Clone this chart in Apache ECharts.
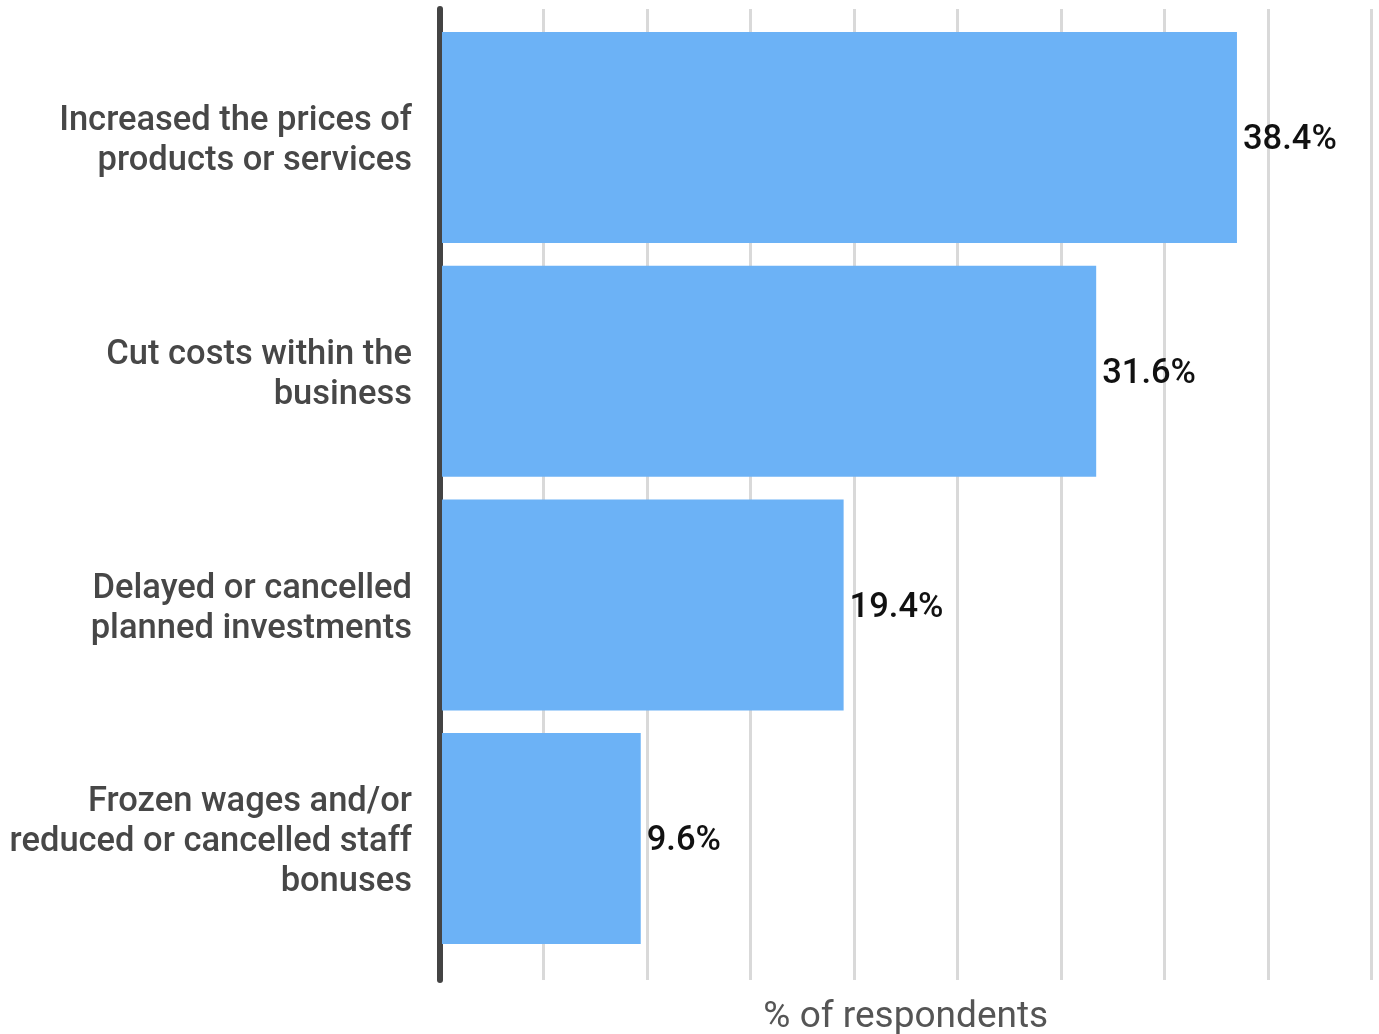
<!DOCTYPE html>
<html>
<head>
<meta charset="utf-8">
<title>Business responses</title>
<script src="https://cdn.jsdelivr.net/npm/echarts@6/dist/echarts.min.js"></script>
<style>
  html, body { margin: 0; padding: 0; background: #ffffff; }
  #chart { width: 1379px; height: 1034px; }
</style>
</head>
<body>
<div id="chart"></div>
<script>
// Actions taken by businesses, share of respondents (%)
const categories = [
  'Increased the prices of\nproducts or services',
  'Cut costs within the\nbusiness',
  'Delayed or cancelled\nplanned investments',
  'Frozen wages and/or\nreduced or cancelled staff\nbonuses'
];
const values = [38.4, 31.6, 19.4, 9.6];
const axisMin = 0;
const axisMax = 45;
const axisStep = 5;
const axisTitle = '% of respondents';

const FONT = 'Roboto, "Noto Sans", sans-serif';

const PLOT_LEFT = 440;
const PLOT_RIGHT = 7.5;
const W = 1379;

const chart = echarts.init(document.getElementById('chart'), null, { renderer: 'canvas' });

chart.setOption({
  animation: false,
  backgroundColor: '#ffffff',
  // x-axis title, centred under the plot area
  title: {
    text: axisTitle,
    left: (PLOT_LEFT + (W - PLOT_RIGHT)) / 2,
    top: 999,
    padding: 0,
    textAlign: 'center',
    textStyle: { fontFamily: FONT, fontSize: 37, fontWeight: 400, color: '#555555' }
  },
  grid: [
    // frame: vertical gridlines and baseline
    { left: PLOT_LEFT, right: PLOT_RIGHT, top: 9, height: 971, containLabel: false },
    // bars and category labels
    { left: 442, right: 5.4, top: 20.7, height: 934.7, containLabel: false }
  ],
  xAxis: [
    {
      gridIndex: 0,
      type: 'value',
      min: axisMin,
      max: axisMax,
      interval: axisStep,
      axisLine: { show: false },
      axisTick: { show: false },
      axisLabel: { show: false },
      splitLine: { show: true, lineStyle: { color: '#d9d9d9', width: 3 } }
    },
    {
      gridIndex: 1,
      type: 'value',
      min: axisMin,
      max: axisMax,
      interval: axisStep,
      show: false,
      splitLine: { show: false }
    }
  ],
  yAxis: [
    {
      gridIndex: 0,
      type: 'category',
      data: [''],
      axisLine: { show: true, onZero: false, lineStyle: { color: '#444444', width: 6 } },
      axisTick: { show: false },
      axisLabel: { show: false },
      splitLine: { show: false }
    },
    {
      gridIndex: 1,
      type: 'category',
      inverse: true,
      data: categories,
      axisLine: { show: false },
      axisTick: { show: false },
      splitLine: { show: false },
      axisLabel: {
        margin: 30,
        fontFamily: FONT,
        fontSize: 34.5,
        fontWeight: 500,
        lineHeight: 40,
        color: '#474747',
        align: 'right',
        // a thin spacer line on top nudges the text block down a little
        formatter: v => '{s| }\n' + v,
        rich: { s: { fontSize: 1, lineHeight: 8 } }
      }
    }
  ],
  series: [
    {
      type: 'bar',
      xAxisIndex: 1,
      yAxisIndex: 1,
      data: values,
      barWidth: 211,
      itemStyle: { color: '#6cb2f6' },
      label: {
        show: true,
        position: 'right',
        distance: 6,
        offset: [0, 3],
        formatter: p => p.value.toFixed(1) + '%',
        fontFamily: FONT,
        fontSize: 34.5,
        fontWeight: 500,
        color: '#111111'
      }
    }
  ]
});
</script>
</body>
</html>
